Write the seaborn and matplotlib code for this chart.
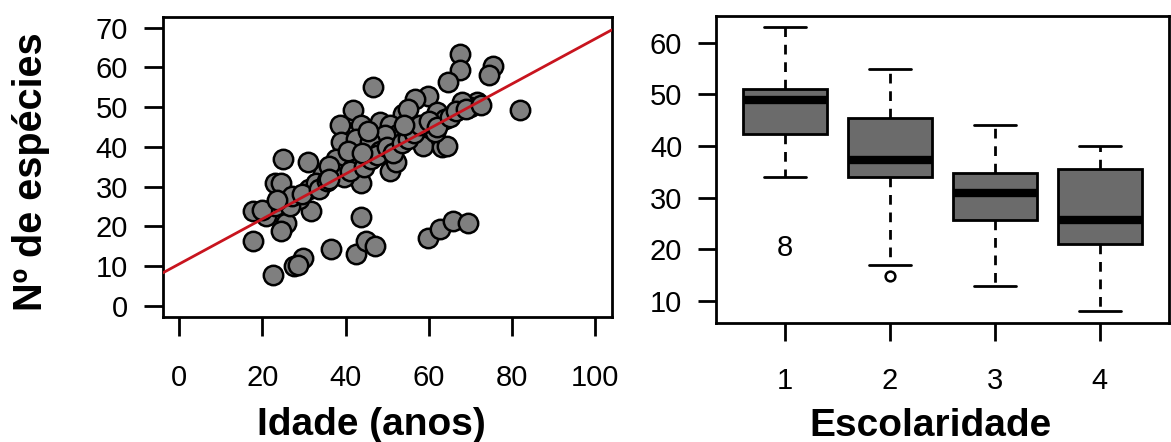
import matplotlib
matplotlib.use("Agg")
import matplotlib.pyplot as plt
import seaborn as sns
import pandas as pd
import numpy as np

# ---------------- data ----------------
idade = [67.5, 67.5, 75.5, 74.5, 46.6, 64.7, 81.9, 71.5, 69.9, 59.8,
         56.6, 53.8, 61.9, 55.0, 41.8, 38.6, 43.6, 48.2, 50.6, 57.0,
         52.6, 49.4, 39.0, 42.6, 45.8, 58.6, 63.1, 64.3, 61.6, 63.9,
         67.9, 48.2, 50.6, 52.2, 43.8, 41.8, 37.8, 34.5, 37.8, 36.1,
         30.9, 24.9, 22.9, 24.5, 31.3, 32.9, 17.7, 20.9, 22.9, 25.7,
         24.5, 31.7, 28.9, 26.5, 17.7, 22.5, 27.7, 29.7, 28.5, 36.5,
         43.8, 42.6, 45.0, 47.0, 59.8, 62.7, 65.9, 69.5,
         27.0, 29.5, 33.5, 35.5, 39.5, 41.0, 44.5, 46.0, 47.5, 50.0,
         51.5, 53.5, 55.0, 56.5, 58.0, 60.0, 62.0, 65.0, 66.5, 69.0,
         72.5, 54.0, 45.5, 40.5, 44.0, 20.0, 23.5, 36.0]
especies = [63.5, 59.3, 60.5, 58.0, 55.1, 56.3, 49.2, 51.3, 50.0, 52.9,
            52.1, 48.3, 48.7, 49.5, 49.2, 45.4, 45.5, 46.2, 45.4, 44.9,
            43.3, 43.0, 41.2, 42.0, 41.2, 40.3, 39.9, 40.3, 43.7, 47.1,
            51.3, 39.0, 34.0, 36.1, 31.0, 36.9, 36.9, 33.1, 33.5, 35.2,
            36.1, 36.9, 31.0, 31.0, 29.3, 31.0, 23.9, 22.6, 25.1, 20.9,
            18.8, 23.9, 26.8, 25.1, 16.3, 7.8, 9.9, 12.1, 10.2, 14.2,
            22.2, 12.9, 16.3, 15.0, 17.1, 19.2, 21.3, 20.9,
            27.5, 28.0, 29.5, 31.5, 32.5, 34.0, 35.0, 37.0, 38.0, 40.0,
            38.5, 41.0, 42.0, 43.5, 45.5, 46.5, 45.0, 47.5, 49.0, 49.5,
            50.5, 45.5, 44.0, 39.0, 38.5, 24.0, 26.5, 32.0]

fit_intercept = 10.5
fit_slope = 0.567

escolaridade_niveis = ["1", "2", "3", "4"]
esp_esc1 = [20.3, 34, 38, 42.3, 45, 47, 49, 50, 50.5, 51, 55, 59, 63]
esp_esc2 = [14.8, 17, 28, 34, 35, 36, 37.4, 40, 43, 45.4, 49, 52, 55]
esp_esc3 = [13, 19, 23, 25.7, 28, 30, 31, 32, 33, 34.8, 38, 41, 44]
esp_esc4 = [8, 12, 17, 21, 22, 24, 25.7, 29, 33, 35.6, 37, 38, 40]

x_ticks_idade = [0, 20, 40, 60, 80, 100]
y_ticks_esp = [0, 10, 20, 30, 40, 50, 60, 70]
y_ticks_box = [10, 20, 30, 40, 50, 60]

# ---------------- style ----------------
sns.set_style("white")
plt.rcParams["font.family"] = ["Liberation Sans", "DejaVu Sans"]
plt.rcParams["text.color"] = "black"
plt.rcParams["axes.labelcolor"] = "black"

W, H = 1171, 442
fig = plt.figure(figsize=(W / 100, H / 100), dpi=100)

def frac(l, r, t, b):
    return [l / W, 1 - b / H, (r - l) / W, (b - t) / H]

ax1 = fig.add_axes(frac(162.7, 611.7, 16.7, 316.7))
ax2 = fig.add_axes(frac(715.6, 1169.0, 16.0, 322.7))

# ---------------- scatter ----------------
df_sc = pd.DataFrame({"Idade": idade, "Especies": especies})
sns.scatterplot(data=df_sc, x="Idade", y="Especies", ax=ax1,
                color="#7f7f7f", edgecolor="black", linewidth=1.8,
                s=195, zorder=2, legend=False)
ax1.axline((0, fit_intercept), slope=fit_slope, color="#c8141e", lw=2.0, zorder=3)
ax1.set_xlim(-4, 104)
ax1.set_ylim(-2.8, 72.8)
ax1.set_xticks(x_ticks_idade)
ax1.set_yticks(y_ticks_esp)

# ---------------- boxplot ----------------
grp, val = [], []
for lev, arr in zip(escolaridade_niveis, [esp_esc1, esp_esc2, esp_esc3, esp_esc4]):
    grp += [lev] * len(arr)
    val += arr
df_bx = pd.DataFrame({"Escolaridade": grp, "Especies": val})
sns.boxplot(data=df_bx, x="Escolaridade", y="Especies", order=escolaridade_niveis,
            ax=ax2, width=0.8, color="#6b6b6b", saturation=1, linecolor="black",
            linewidth=2.0, whis=1.5,
            medianprops=dict(linewidth=6, color="black", solid_capstyle="butt"),
            whiskerprops=dict(linestyle=(0, (3.5, 2.8)), linewidth=2.0),
            capprops=dict(linewidth=2.0),
            flierprops=dict(marker="o", markerfacecolor="none", markeredgecolor="black",
                            markersize=7, markeredgewidth=1.8))

# caps at half box width (R style) and "8" label for the outlier of group 1
for cont in ax2.containers:
    if hasattr(cont, "caps"):
        for cap in cont.caps:
            xd = np.asarray(cap.get_xdata(), dtype=float)
            c = xd.mean()
            cap.set_xdata([c - 0.2, c + 0.2])
        for fl in cont.fliers:
            xs = np.asarray(fl.get_xdata(), dtype=float)
            ys = np.asarray(fl.get_ydata(), dtype=float)
            if len(xs) and abs(xs[0] - 0) < 0.5:
                fl.set_visible(False)
                ax2.text(xs[0], ys.mean(), "8", ha="center", va="center",
                         fontsize=21, color="black")

ax2.set_xlim(-0.66, 3.66)
ax2.set_ylim(5.8, 65.2)
ax2.set_yticks(y_ticks_box)

# ---------------- axes cosmetics ----------------
for ax in (ax1, ax2):
    for sp in ax.spines.values():
        sp.set_visible(True)
        sp.set_color("black")
        sp.set_linewidth(2.0)
    ax.tick_params(axis="both", which="major", direction="out", labelsize=21,
                   width=2.0, colors="black", left=True, bottom=True)

ax1.tick_params(axis="y", length=14, pad=11)
ax1.tick_params(axis="x", length=14, pad=20)
ax2.tick_params(axis="y", length=13, pad=11)
ax2.tick_params(axis="x", length=13, pad=19)

ax1.set_xlabel("Idade (anos)", fontsize=28, fontweight="bold", color="black")
ax1.set_ylabel("Nº de espécies", fontsize=28.5, fontweight="bold", color="black")
ax2.set_xlabel("Escolaridade", fontsize=28, fontweight="bold", color="black")
ax2.set_ylabel("")

ax1.xaxis.set_label_coords(0.4655, -0.36)
ax1.xaxis.label.set_verticalalignment("center")
ax1.yaxis.set_label_coords(-0.293, 0.483)
ax1.yaxis.label.set_verticalalignment("center")
ax2.xaxis.set_label_coords(0.475, -0.336)
ax2.xaxis.label.set_verticalalignment("center")

fig.savefig("out.png", dpi=100, facecolor="white")
